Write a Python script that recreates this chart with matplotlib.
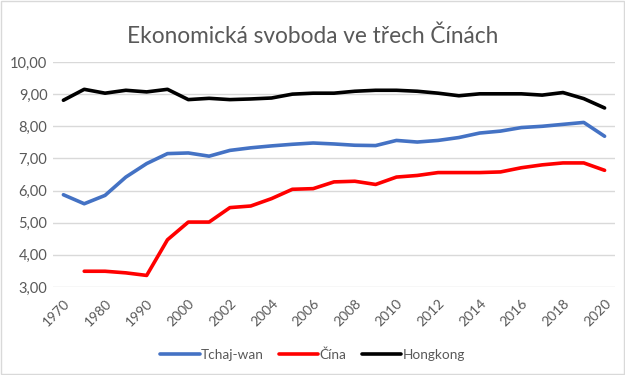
import matplotlib
matplotlib.use("Agg")
import matplotlib.pyplot as plt
import numpy as np

years = ["1970", "1975", "1980", "1985", "1990", "1995"] + [str(y) for y in range(2000, 2021)]
tchajwan = [5.87, 5.59, 5.85, 6.42, 6.84, 7.15, 7.17, 7.07, 7.25, 7.33, 7.39, 7.44, 7.48,
            7.45, 7.41, 7.40, 7.56, 7.51, 7.56, 7.65, 7.79, 7.85, 7.96, 8.00, 8.06, 8.12, 7.69]
cina = [np.nan, 3.49, 3.49, 3.44, 3.36, 4.47, 5.02, 5.02, 5.47, 5.52, 5.75, 6.04, 6.06,
        6.27, 6.29, 6.19, 6.42, 6.47, 6.56, 6.56, 6.56, 6.58, 6.71, 6.80, 6.86, 6.86, 6.63]
hongkong = [8.81, 9.15, 9.03, 9.12, 9.07, 9.15, 8.83, 8.87, 8.83, 8.85, 8.88, 9.00, 9.03,
            9.03, 9.09, 9.12, 9.12, 9.09, 9.03, 8.95, 9.01, 9.01, 9.01, 8.97, 9.05, 8.86, 8.57]
yticks = [3, 4, 5, 6, 7, 8, 9, 10]

plt.rcParams["font.family"] = ["Lato", "DejaVu Sans"]
GRAY = "#595959"

fig = plt.figure(figsize=(6.25, 3.75), dpi=100)
ax = fig.add_axes([53 / 625, 1 - 287 / 375, 562 / 625, 225 / 375])
x = np.arange(len(years))
ax.plot(x, tchajwan, color="#4472c4", lw=2.6, label="Tchaj-wan", solid_capstyle="round")
ax.plot(x, cina, color="#ff0000", lw=2.6, label="Čína", solid_capstyle="round")
ax.plot(x, hongkong, color="#000000", lw=2.6, label="Hongkong", solid_capstyle="round")

ax.set_xlim(-0.5, len(years) - 0.5)
ax.set_ylim(3, 10)
ax.set_yticks(yticks)
ax.set_yticklabels([f"{v:.2f}".replace(".", ",") for v in yticks], color=GRAY, fontsize=10.5)
ax.set_xticks(x[::2])
ax.set_xticklabels(years[::2], rotation=45, ha="right", va="top", rotation_mode="anchor",
                   color=GRAY, fontsize=10)
ax.tick_params(length=0, axis="both")
ax.tick_params(axis="y", pad=4)
ax.tick_params(axis="x", pad=7)
ax.grid(axis="y", color="#d9d9d9", lw=1)
ax.set_axisbelow(True)
for s in ax.spines.values():
    s.set_visible(False)

fig.text(0.5, 1 - 36 / 375, "Ekonomická svoboda ve třech Čínách", ha="center", va="center",
         fontsize=16.3, color=GRAY)
fig.legend(loc="center", bbox_to_anchor=(0.5, 1 - 355 / 375), ncol=3, frameon=False,
           fontsize=9.8, handlelength=2.9, handletextpad=0.1, columnspacing=1.1,
           labelcolor=GRAY)
fig.patches.append(plt.Rectangle((0.002, 0.003), 0.996, 0.994, transform=fig.transFigure,
                                 fill=False, edgecolor="#d9d9d9", lw=1))
fig.savefig("out.png", dpi=100)
